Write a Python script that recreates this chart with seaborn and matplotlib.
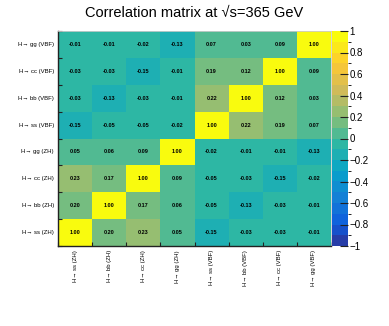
import numpy as np
import pandas as pd
import seaborn as sns
from matplotlib import pyplot as plt
from matplotlib.colors import LinearSegmentedColormap, ListedColormap, BoundaryNorm

# axis labels, bottom-to-top on y, left-to-right on x
labels = ['H\u2192 ss (ZH)', 'H\u2192 bb (ZH)', 'H\u2192 cc (ZH)', 'H\u2192 gg (ZH)',
          'H\u2192 ss (VBF)', 'H\u2192 bb (VBF)', 'H\u2192 cc (VBF)', 'H\u2192 gg (VBF)']

# rows listed from top (gg VBF) to bottom (ss ZH)
row_gg_vbf = [-0.01, -0.01, -0.02, -0.13, 0.07, 0.03, 0.09, 1.00]
row_cc_vbf = [-0.03, -0.03, -0.15, -0.01, 0.19, 0.12, 1.00, 0.09]
row_bb_vbf = [-0.03, -0.13, -0.03, -0.01, 0.22, 1.00, 0.12, 0.03]
row_ss_vbf = [-0.15, -0.05, -0.05, -0.02, 1.00, 0.22, 0.19, 0.07]
row_gg_zh = [0.05, 0.06, 0.09, 1.00, -0.02, -0.01, -0.01, -0.13]
row_cc_zh = [0.23, 0.17, 1.00, 0.09, -0.05, -0.03, -0.15, -0.02]
row_bb_zh = [0.20, 1.00, 0.17, 0.06, -0.05, -0.13, -0.03, -0.01]
row_ss_zh = [1.00, 0.20, 0.23, 0.05, -0.15, -0.03, -0.03, -0.01]

cbar_ticks = [-1, -0.8, -0.6, -0.4, -0.2, 0, 0.2, 0.4, 0.6, 0.8, 1]

plt.rcParams['font.family'] = ['Liberation Sans', 'DejaVu Sans']

# ROOT kBird palette, cut into 20 contour levels
stops = [0, 0.125, 0.25, 0.375, 0.5, 0.625, 0.75, 0.875, 1]
red = [0.2082, 0.0592, 0.0780, 0.0232, 0.1802, 0.5301, 0.8186, 0.9956, 0.9764]
green = [0.1664, 0.3599, 0.5041, 0.6419, 0.7178, 0.7492, 0.7328, 0.7862, 0.9832]
blue = [0.5293, 0.8684, 0.8385, 0.7914, 0.6425, 0.4662, 0.3499, 0.1968, 0.0539]
bird = LinearSegmentedColormap.from_list(
    'bird', list(zip(stops, zip(red, green, blue))))
nlev = 20
# ROOT picks colour (level + 0.99) / nlev of the palette
cmap = ListedColormap([bird(min(1.0, (i + 0.99) / nlev)) for i in range(nlev)])
norm = BoundaryNorm(np.linspace(-1, 1, nlev + 1), nlev)

df = pd.DataFrame([row_gg_vbf, row_cc_vbf, row_bb_vbf, row_ss_vbf,
                   row_gg_zh, row_cc_zh, row_bb_zh, row_ss_zh],
                  index=labels[::-1], columns=labels)

fig = plt.figure(figsize=(3.89, 3.26), dpi=100)
ax = fig.add_axes([58 / 389, 1 - 246 / 326, 273 / 389, 215 / 326])
cax = fig.add_axes([332 / 389, 1 - 246 / 326, 16 / 389, 215 / 326])

sns.heatmap(df, ax=ax, cbar_ax=cax, cmap=cmap, norm=norm, annot=True, fmt='.2f',
            annot_kws={'size': 4, 'color': 'black', 'weight': 'bold'},
            cbar_kws={'ticks': cbar_ticks})

ax.tick_params(axis='both', length=0, labelsize=4.3, pad=3)
ax.set_xticklabels(labels, rotation=90)
ax.set_yticklabels(labels[::-1], rotation=0)
ax.set_xlabel('')
ax.set_ylabel('')
# boundary tick marks, ROOT style (inside)
ax.set_xticks(np.arange(0, 9), minor=True)
ax.set_yticks(np.arange(0, 9), minor=True)
ax.tick_params(which='minor', direction='in', length=3, width=0.8, color='#222222')
for side in ['left', 'bottom']:
    ax.spines[side].set_visible(True)
    ax.spines[side].set_linewidth(1.0)
    ax.spines[side].set_color('#222222')
for side in ['top', 'right']:
    ax.spines[side].set_visible(True)
    ax.spines[side].set_linewidth(0.6)
    ax.spines[side].set_color('#cccccc')

cb = ax.collections[0].colorbar
cb.outline.set_visible(False)
cax.yaxis.set_ticks_position('right')
cax.tick_params(axis='y', direction='in', length=6, width=0.8, labelsize=7, pad=1,
                right=True, left=False, color='#222222')
cax.set_yticklabels(['\u22121', '\u22120.8', '\u22120.6', '\u22120.4', '\u22120.2',
                     '0', '0.2', '0.4', '0.6', '0.8', '1'])

fig.text(0.5, 1 - 13 / 326, 'Correlation matrix at \u221as=365 GeV',
         ha='center', va='center', fontsize=10.5)

fig.savefig('out.png', dpi=100)
